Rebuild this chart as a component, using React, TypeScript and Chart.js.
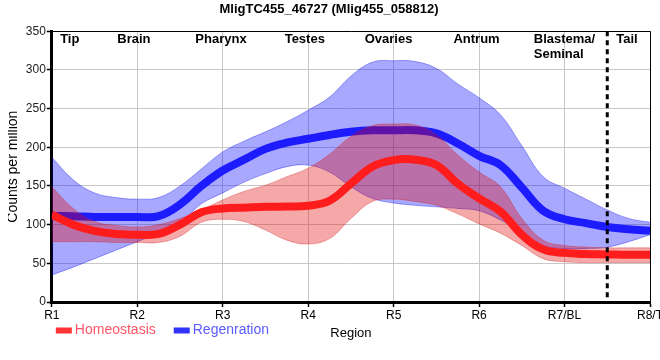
import React, { useEffect, useRef } from "react";
import { Chart, registerables } from "chart.js";

Chart.register(...registerables);

const FAMILY = "'Liberation Sans', Arial, sans-serif";

const chartTitle = "MligTC455_46727 (Mlig455_058812)";
const xTitle = "Region";
const yTitle = "Counts per million";
const tickLabels = ["R1", "R2", "R3", "R4", "R5", "R6", "R7/BL", "R8/T"];
const seriesNames = ["Homeostasis", "Regenration"];

const xPositions = [
  1, 1.25, 1.5, 1.75, 2, 2.25, 2.5, 2.75, 3, 3.25, 3.5, 3.75, 4, 4.25, 4.5,
  4.75, 5, 5.25, 5.5, 5.75, 6, 6.25, 6.5, 6.75, 7, 7.25, 7.5, 7.75, 8,
];

const homeoMean = [
  113, 100, 92, 88, 87, 88, 100, 116, 121, 122, 123, 123.5, 124.5, 131, 153,
  175, 183.5, 184, 177, 153, 134, 117, 87, 68, 63.5, 62, 61.5, 61, 61,
];
const homeoUpper = [
  149, 121, 104, 99, 97, 100, 108, 119, 132, 143, 151, 162, 173, 191, 214,
  228, 230, 229, 216, 190, 168, 149, 108, 80, 73, 71, 70, 70, 70,
];
const homeoLower = [
  78, 78, 78, 77, 77, 77, 85, 103, 107, 104, 93, 80, 75, 82, 108,
  130, 133, 130, 125, 114, 101, 89, 73, 56, 52, 51, 51, 51, 51,
];

const regenMean = [
  111, 111, 110, 110, 110, 111, 126, 150, 170, 184, 198, 206, 211, 216, 220,
  222, 222, 222, 218, 205, 189, 177, 148, 118, 107, 102, 97, 94, 92,
];
const regenUpper = [
  187, 158, 141, 135, 133, 135, 150, 172, 194, 208, 220, 233, 248, 265, 292,
  310, 312, 311, 302, 282, 264, 242, 202, 162, 147, 133, 119, 108, 103,
];
const regenLower = [
  35, 45, 56, 67, 78, 89, 102, 127, 141, 155, 166, 175, 177, 168, 149,
  134, 128, 125, 123, 121, 118, 106, 90, 73, 69, 69, 71, 78, 87,
];

const regionNames = ["Tip", "Brain", "Pharynx", "Testes", "Ovaries", "Antrum", "Blastema/\nSeminal", "Tail"];
const regionAt = [1.21, 1.96, 2.98, 3.96, 4.94, 5.97, 6.64, 7.73];
const regionAlign: CanvasTextAlign[] = ["center", "center", "center", "center", "center", "center", "left", "center"];
const boundaryAt = 7.5;

const pts = (arr: number[]) => xPositions.map((x, i) => ({ x, y: arr[i] }));

const RED_LINE = "rgb(255,28,28)";
const BLUE_LINE = "rgb(28,28,255)";
const RED_FILL = "rgba(222,0,0,0.34)";
const BLUE_FILL = "rgba(0,0,255,0.34)";
const RED_EDGE = "rgba(210,30,30,0.35)";
const BLUE_EDGE = "rgba(30,30,230,0.4)";

const legendItems = [
  { text: seriesNames[0], box: "#ff3333", color: "#ff5566" },
  { text: seriesNames[1], box: "#3333ff", color: "#5a5aff" },
];

const overlayPlugin = {
  id: "overlay",
  afterDatasetsDraw(chart: any) {
    const { ctx, chartArea } = chart;
    const { left, right, top, bottom } = chartArea;
    const x = chart.scales.x;
    ctx.save();
    const bx = x.getPixelForValue(boundaryAt);
    ctx.strokeStyle = "#000";
    ctx.lineWidth = 3;
    ctx.setLineDash([5, 4]);
    ctx.beginPath();
    ctx.moveTo(bx, top);
    ctx.lineTo(bx, bottom);
    ctx.stroke();
    ctx.setLineDash([]);
    ctx.lineWidth = 1;
    ctx.beginPath();
    ctx.moveTo(left, Math.round(top) + 0.5);
    ctx.lineTo(Math.round(right) + 0.5, Math.round(top) + 0.5);
    ctx.lineTo(Math.round(right) + 0.5, bottom);
    ctx.stroke();
    ctx.font = "bold 13px " + FAMILY;
    ctx.fillStyle = "#000";
    ctx.textBaseline = "middle";
    regionNames.forEach((name, i) => {
      ctx.textAlign = regionAlign[i];
      const px = x.getPixelForValue(regionAt[i]);
      name.split("\n").forEach((ln, j) => {
        ctx.fillText(ln, px, top + 8.5 + j * 14.5);
      });
    });
    ctx.restore();
  },
  afterDraw(chart: any) {
    const { ctx, chartArea } = chart;
    ctx.save();
    ctx.font = "14px " + FAMILY;
    ctx.textBaseline = "middle";
    ctx.textAlign = "left";
    let cx = chartArea.left + 4;
    const cy = 330;
    legendItems.forEach((it) => {
      ctx.fillStyle = it.box;
      ctx.fillRect(cx, cy - 2.5, 16, 6);
      ctx.fillStyle = it.color;
      ctx.fillText(it.text, cx + 19, cy);
      cx += 19 + ctx.measureText(it.text).width + 18;
    });
    ctx.restore();
  },
};

export default function App() {
  const ref = useRef<HTMLCanvasElement | null>(null);

  useEffect(() => {
    if (!ref.current) return;
    Chart.defaults.font.family = FAMILY;
    const common = { pointRadius: 0, pointHoverRadius: 0, tension: 0.4 };
    const chart = new Chart(ref.current, {
      type: "line",
      data: {
        datasets: [
          { label: seriesNames[0], data: pts(homeoMean), borderColor: RED_LINE, borderWidth: 8, fill: false, order: 0, borderJoinStyle: "round", ...common },
          { label: seriesNames[0] + " upper", data: pts(homeoUpper), borderColor: RED_EDGE, borderWidth: 1, backgroundColor: RED_FILL, fill: 2, order: 1, ...common },
          { label: seriesNames[0] + " lower", data: pts(homeoLower), borderColor: RED_EDGE, borderWidth: 1, fill: false, order: 1, ...common },
          { label: seriesNames[1], data: pts(regenMean), borderColor: BLUE_LINE, borderWidth: 8, fill: false, order: 2, borderJoinStyle: "round", ...common },
          { label: seriesNames[1] + " upper", data: pts(regenUpper), borderColor: BLUE_EDGE, borderWidth: 1, backgroundColor: BLUE_FILL, fill: 5, order: 3, ...common },
          { label: seriesNames[1] + " lower", data: pts(regenLower), borderColor: BLUE_EDGE, borderWidth: 1, fill: false, order: 3, ...common },
        ] as any,
      },
      options: {
        animation: false,
        responsive: true,
        maintainAspectRatio: false,
        events: [],
        layout: { padding: { left: 0, right: 30, top: 0, bottom: 19 } },
        plugins: {
          legend: { display: false },
          tooltip: { enabled: false },
          title: {
            display: true,
            text: chartTitle,
            color: "#000",
            font: { size: 13, weight: "bold", family: FAMILY },
            padding: { top: 1.2, bottom: 14.5 },
          },
        },
        scales: {
          x: {
            type: "linear",
            min: 1,
            max: 8,
            ticks: {
              stepSize: 1,
              autoSkip: false,
              maxRotation: 0,
              color: "#000",
              font: { size: 12, family: FAMILY },
              padding: 1,
              callback: (v: any) => tickLabels[Math.round(Number(v)) - 1] ?? "",
            },
            grid: { color: "#c8c8c8", lineWidth: 1, tickLength: 5, tickColor: "#000", tickWidth: 1.5 },
            border: { color: "#000", width: 3 },
            title: { display: true, text: xTitle, color: "#000", font: { size: 13, family: FAMILY }, padding: { top: 2, bottom: 0 } },
          },
          y: {
            min: 0,
            max: 350,
            ticks: { stepSize: 50, color: "#222", font: { size: 12, family: FAMILY }, padding: 1 },
            grid: { color: "#c8c8c8", lineWidth: 1, tickLength: 5, tickColor: "#000", tickWidth: 1.5 },
            border: { color: "#000", width: 3 },
            title: { display: true, text: yTitle, color: "#000", font: { size: 14, family: FAMILY }, padding: { top: -3, bottom: 3 } },
          },
        },
      } as any,
      plugins: [overlayPlugin],
    });
    return () => chart.destroy();
  }, []);

  return (
    <div style={{ position: "absolute", left: 0, top: 0, width: 660, height: 360, overflow: "hidden", background: "#fff" }}>
      <div style={{ position: "absolute", left: 8, top: 0, width: 672, height: 360 }}>
        <canvas ref={ref} />
      </div>
    </div>
  );
}
